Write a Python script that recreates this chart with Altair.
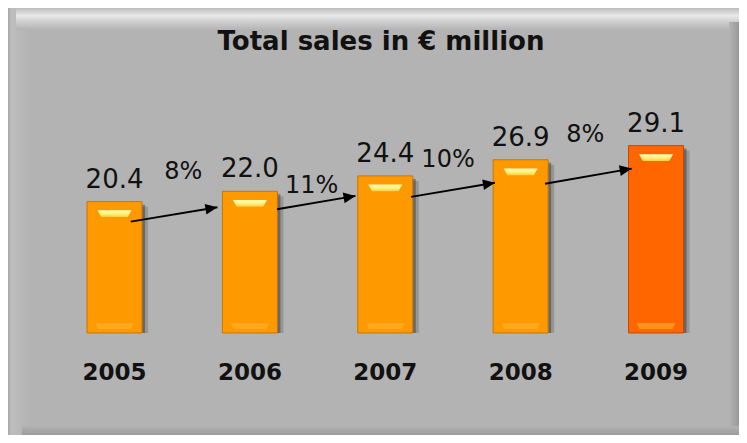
import math
import altair as alt
import pandas as pd

# ---------------- data ----------------
years = ["2005", "2006", "2007", "2008", "2009"]
sales = [20.4, 22.0, 24.4, 26.9, 29.1]
growth = ["8%", "11%", "10%", "8%"]
title_text = "Total sales in € million"

# ---------------- style ----------------
W, H = 731, 427
X_DOM = [-0.75, 4.576]
Y_DOM = [-15.84, 50.47]
XPX = W / (X_DOM[1] - X_DOM[0])
YPX = H / (Y_DOM[1] - Y_DOM[0])
FONT = "DejaVu Sans"
bar_fills = ["#FF9900", "#FF9900", "#FF9900", "#FF9900", "#FF6600"]
bar_strokes = ["#C77700", "#C77700", "#C77700", "#C77700", "#C04C00"]
arrow_start_dx = [0.12, 0.20, 0.19, 0.18]      # index units from bar i
arrow_end_dx = [-0.24, -0.22, -0.19, -0.18]    # index units from bar i+1
arrow_start_dy = [20, 18, 21, 24]              # px below bar i top
arrow_end_dy = [16, 20, 23, 23]                # px below bar i+1 top
pct_dy = [-17.5, 9.4, -0.8, -10.7]             # px from mid value
pct_dx = [1, -6, -5, -3]                       # px

xs = alt.Scale(domain=X_DOM, nice=False, zero=False)
ys = alt.Scale(domain=Y_DOM, nice=False, zero=False)

bars = pd.DataFrame({
    "idx": list(range(len(years))),
    "year": years,
    "sales": sales,
    "base": [0] * len(years),
    "label": [f"{v:.1f}" for v in sales],
    "fill": bar_fills,
    "stroke": bar_strokes,
})

rows = []
for i, g in enumerate(growth):
    x0 = i + arrow_start_dx[i]
    x1 = i + 1 + arrow_end_dx[i]
    y0 = sales[i] - arrow_start_dy[i] / YPX
    y1 = sales[i + 1] - arrow_end_dy[i] / YPX
    ang = math.degrees(math.atan2(-(y1 - y0) * YPX, (x1 - x0) * XPX)) % 360
    mid = (sales[i] + sales[i + 1]) / 2
    rows.append({
        "x0": x0, "x1": x1, "y0": y0, "y1": y1, "angle": ang,
        "g": g,
        "px": i + 0.5 + pct_dx[i] / XPX,
        "py": mid - pct_dy[i] / YPX,
    })
arrows = pd.DataFrame(rows)

one = pd.DataFrame({"a": [0]})

X = lambda f: alt.X(f, scale=xs, axis=None)
Y = lambda f: alt.Y(f, scale=ys, axis=None)


def grad(stops, vertical=True):
    return alt.Gradient(
        gradient="linear",
        stops=[alt.GradientStop(color=c, offset=o) for o, c in stops],
        x1=0, y1=0, x2=0 if vertical else 1, y2=1 if vertical else 0,
    )


# bevelled frame
left_bevel = alt.Chart(one).mark_rect(
    fill=grad([(0, "#a6a6a6"), (0.15, "#bdbdbd"), (1, "#b3b3b3")], vertical=False)
).encode(x=alt.value(0), x2=alt.value(22), y=alt.value(0), y2=alt.value(H))
top_bevel = alt.Chart(one).mark_rect(
    fill=grad([(0, "#bcbcbc"), (0.35, "#e9e9e9"), (0.6, "#d0d0d0"), (1, "#b3b3b3")])
).encode(x=alt.value(8), x2=alt.value(W), y=alt.value(0), y2=alt.value(22))
right_bevel = alt.Chart(one).mark_rect(
    fill=grad([(0, "#b3b3b3"), (1, "#9a9a9a")], vertical=False)
).encode(x=alt.value(W - 10), x2=alt.value(W), y=alt.value(14), y2=alt.value(H))
bottom_bevel = alt.Chart(one).mark_rect(
    fill=grad([(0, "#b3b3b3"), (0.5, "#a6a6a6"), (1, "#9c9c9c")])
).encode(x=alt.value(14), x2=alt.value(W), y=alt.value(H - 9), y2=alt.value(H))

title = alt.Chart(one).mark_text(
    text=title_text, font=FONT, fontWeight="bold", fontSize=26,
    align="center", baseline="alphabetic", color="#111111"
).encode(x=alt.value(373), y=alt.value(42))

base = alt.Chart(bars)

shadow1 = base.mark_bar(size=55, xOffset=6, yOffset=5, color="#404040", opacity=0.25).encode(
    x=X("idx:Q"), y=Y("sales:Q"), y2="base:Q")
shadow2 = base.mark_bar(size=55, xOffset=3, yOffset=3, color="#303030", opacity=0.45).encode(
    x=X("idx:Q"), y=Y("sales:Q"), y2="base:Q")

bar = base.mark_bar(size=55, strokeWidth=1).encode(
    x=X("idx:Q"), y=Y("sales:Q"), y2="base:Q",
    fill=alt.Fill("fill:N", scale=None),
    stroke=alt.Stroke("stroke:N", scale=None),
)

glint = base.mark_point(
    shape="M-1,-0.2 L1,-0.2 L0.78,0.2 L-0.78,0.2 Z", size=1156, filled=True,
    fill=grad([(0, "#FFFFC0"), (0.6, "#FFEE70"), (1, "#FFC840")]),
    strokeWidth=0, opacity=1, yOffset=12,
).encode(x=X("idx:Q"), y=Y("sales:Q"))

bottom_glint = base.mark_point(
    shape="M-1,-0.15 L1,-0.15 L0.85,0.15 L-0.85,0.15 Z", size=1500, filled=True,
    fill="#FFB030", strokeWidth=0, opacity=0.6, yOffset=-7,
).encode(x=X("idx:Q"), y=Y("base:Q"))

values = base.mark_text(
    font=FONT, fontSize=26, baseline="alphabetic", align="center", dy=-14, color="#111111"
).encode(x=X("idx:Q"), y=Y("sales:Q"), text="label:N")

year_labels = base.mark_text(
    font=FONT, fontSize=23, fontWeight="bold", baseline="alphabetic", align="center",
    dy=47, color="#111111"
).encode(x=X("idx:Q"), y=Y("base:Q"), text="year:N")

ar = alt.Chart(arrows)
arrow_lines = ar.mark_rule(color="#000000", strokeWidth=2).encode(
    x=X("x0:Q"), x2="x1:Q", y=Y("y0:Q"), y2="y1:Q")
arrow_heads = ar.mark_point(
    shape="M0,0 L-2,-0.9 L-2,0.9 Z", size=144, filled=True, fill="#000000",
    strokeWidth=0, opacity=1,
).encode(x=X("x1:Q"), y=Y("y1:Q"), angle=alt.Angle("angle:Q", scale=None))

pct = ar.mark_text(
    font=FONT, fontSize=24, baseline="alphabetic", align="center", color="#111111"
).encode(x=X("px:Q"), y=Y("py:Q"), text="g:N")

chart = alt.layer(
    left_bevel, top_bevel, right_bevel, bottom_bevel, title,
    shadow1, shadow2, bar, glint, bottom_glint,
    arrow_lines, arrow_heads, values, pct, year_labels,
).properties(
    width=W, height=H, padding=0,
    autosize=alt.AutoSizeParams(type="none"),
    background="#B3B3B3",
).configure_view(strokeWidth=0)

chart.save("out.html", embed_options={"renderer": "svg", "actions": False})
